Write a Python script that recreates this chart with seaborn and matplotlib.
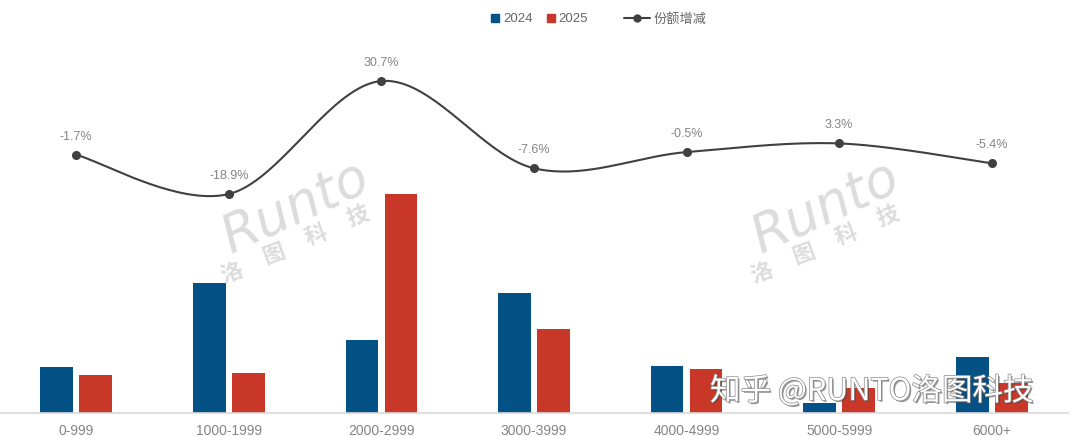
import numpy as np
import pandas as pd
import matplotlib
matplotlib.use("Agg")
import matplotlib.pyplot as plt
import matplotlib.patheffects as pe
from matplotlib.lines import Line2D
import seaborn as sns

# ---------------- data ----------------
categories = ["0-999", "1000-1999", "2000-2999", "3000-3999",
              "4000-4999", "5000-5999", "6000+"]
share_2024 = [9.6, 27.1, 15.1, 25.0, 9.7, 1.9, 11.6]
share_2025 = [7.9, 8.2, 45.8, 17.4, 9.2, 5.2, 6.2]
share_change = [-1.7, -18.9, 30.7, -7.6, -0.5, 3.3, -5.4]
series_names = ["2024", "2025"]
line_name = "份额增减"

BLUE = "#045186"
RED = "#C93728"
LINE = "#404040"
LABEL = "#858585"

sns.set_theme(style="white")
plt.rcParams["font.family"] = ["Liberation Sans", "Noto Sans CJK SC", "DejaVu Sans"]

df = pd.DataFrame({
    "cat": categories * 2,
    "year": [series_names[0]] * len(categories) + [series_names[1]] * len(categories),
    "share": share_2024 + share_2025,
})

W, H = 1080, 436
fig = plt.figure(figsize=(W / 100, H / 100), dpi=100)
ax = fig.add_axes([0, 23.5 / H, 1068 / W, 412.5 / H])

sns.barplot(data=df, x="cat", y="share", hue="year", order=categories,
            hue_order=series_names, palette=[BLUE, RED], saturation=1,
            width=0.512, gap=0.164, linewidth=0, ax=ax, legend=False, zorder=2)

ax.set_xlim(-0.5, len(categories) - 0.5)
ax.set_ylim(0, 86.46)
ax.set_xlabel("")
ax.set_ylabel("")
ax.set_yticks([])
for s in ["left", "right", "top"]:
    ax.spines[s].set_visible(False)
ax.spines["bottom"].set_color("#d9d9d9")
ax.spines["bottom"].set_linewidth(1.2)
ax.tick_params(axis="x", length=0, pad=8, labelsize=10, labelcolor=LABEL)
ax.patch.set_alpha(0)

# ---------------- line (secondary axis) ----------------
ax2 = ax.twinx()
ax2.set_ylim(-114.8, 66.26)
ax2.set_yticks([])
for s in ax2.spines.values():
    s.set_visible(False)


def smooth_path(xs, ys, n=40):
    P = np.column_stack([xs, ys]).astype(float)
    ext = np.vstack([P[0], P, P[-1]])
    out = []
    for i in range(len(P) - 1):
        p0, p1 = P[i], P[i + 1]
        c1 = p0 + (ext[i + 2] - ext[i]) / 6
        c2 = p1 - (ext[i + 3] - ext[i + 1]) / 6
        t = np.linspace(0, 1, n)[:, None]
        seg = (1 - t) ** 3 * p0 + 3 * (1 - t) ** 2 * t * c1 + 3 * (1 - t) * t ** 2 * c2 + t ** 3 * p1
        out.append(seg if i == 0 else seg[1:])
    return np.vstack(out)


xpos = np.arange(len(categories))
curve = smooth_path(xpos, share_change)
sns.lineplot(x=curve[:, 0], y=curve[:, 1], sort=False, estimator=None,
             color=LINE, linewidth=1.5, ax=ax2, zorder=3)
ax2.plot(xpos, share_change, "o", color=LINE, markersize=5.5, zorder=4)
for x, v in zip(xpos, share_change):
    ax2.annotate(f"{v:.1f}%", (x, v), xytext=(0, 13), textcoords="offset points",
                 ha="center", va="center", fontsize=9, color=LABEL)

# ---------------- legend ----------------
bar_handles = [Line2D([], [], marker="s", linestyle="none", color=BLUE, markersize=5.2),
               Line2D([], [], marker="s", linestyle="none", color=RED, markersize=5.2)]
leg1 = fig.legend(bar_handles, series_names, loc="center left",
                  bbox_to_anchor=(491 / W, 1 - 19.3 / H), ncol=2, frameon=False,
                  fontsize=9.5, handlelength=0.55, handletextpad=0.35,
                  columnspacing=1.1, borderpad=0, borderaxespad=0, labelcolor="#666666")
line_handle = [Line2D([], [], marker="o", color=LINE, linewidth=1.5, markersize=5)]
leg2 = fig.legend(line_handle, [line_name], loc="center left",
                  bbox_to_anchor=(624 / W, 1 - 19.3 / H), frameon=False,
                  fontsize=9.5, handlelength=1.95, handletextpad=0.3,
                  borderpad=0, borderaxespad=0, labelcolor="#666666")

# ---------------- watermarks ----------------
WM = "#dcdcdc"
for dx in (0, 530):
    fig.text((296 + dx) / W, 1 - 207 / H, "Runto", rotation=25, ha="center", va="center",
             fontsize=38, color=WM, style="italic", family="DejaVu Sans", zorder=1)
    for k, ch in enumerate("洛图科技"):
        cx = 232 + dx + k * 42
        cy = 273 - k * 19
        fig.text(cx / W, 1 - cy / H, ch, rotation=20, ha="center", va="center",
                 fontsize=16, fontweight="bold", color=WM, family="Noto Sans CJK SC", zorder=1)

fig.text(710 / W, 1 - 391 / H, "知乎 @RUNTO洛图科技", ha="left", va="center",
         fontsize=22, color="white", family=["Noto Sans CJK SC", "DejaVu Sans"],
         path_effects=[pe.SimplePatchShadow(offset=(1.2, -1.2), shadow_rgbFace="#444444", alpha=0.55),
                       pe.withStroke(linewidth=1.0, foreground="#8a8a8a")], zorder=10)

fig.savefig("out.png", dpi=100)
